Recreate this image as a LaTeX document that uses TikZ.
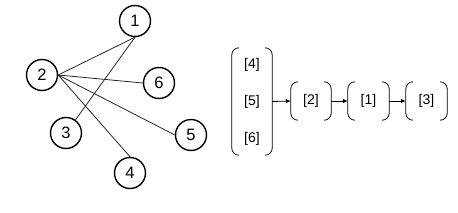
\documentclass[tikz,border=0pt]{standalone}
\usepackage{fontspec}
\setmainfont{Liberation Sans}
\usepackage{tikz}
\usetikzlibrary{arrows.meta, positioning}

% parentheses drawn round a group node
\newcommand{\grpparens}[1]{%
  \draw[paren] ([xshift=7pt]#1.north west) -- (#1.north west) -- (#1.south west) -- ([xshift=7pt]#1.south west);
  \draw[paren] ([xshift=-7pt]#1.north east) -- (#1.north east) -- (#1.south east) -- ([xshift=-7pt]#1.south east);}

\begin{document}
\begin{tikzpicture}[x=1pt, y=-1pt,
    vtx/.style={circle, draw, line width=1.4pt, minimum size=31pt, inner sep=0pt, font=\fontsize{16.5}{19}\selectfont},
    edge/.style={line width=0.8pt, black!85},
    grp/.style={minimum width=40pt, minimum height=38pt, inner sep=0pt, align=center, font=\fontsize{14}{16}\selectfont},
    paren/.style={line width=0.8pt, rounded corners=7pt},
    link/.style={line width=0.8pt, -{Latex[length=5pt, width=4.5pt]}}]
  \useasboundingbox (0,0) rectangle (458,212);
  % graph
  \node[vtx] (n1) at (135,21) {1};
  \node[vtx] (n2) at (42,75) {2};
  \node[vtx] (n6) at (159,83) {6};
  \node[vtx] (n3) at (66,133) {3};
  \node[vtx] (n5) at (191,135) {5};
  \node[vtx] (n4) at (130,173) {4};
  \draw[edge] (n2.east) -- (n1.south);
  \draw[edge] (n2.east) -- (n6.west);
  \draw[edge] (n2.east) -- (n5.west);
  \draw[edge] (n2.east) -- (n4.north);
  \draw[edge] (n3) -- (n1.south);
  % queue of groups
  \node[grp, minimum height=107pt] (q0) at (252,101.5) {[4]\\[21pt][5]\\[21pt][6]};
  \node[grp] (q1) at (311,101) {[2]};
  \node[grp, minimum width=41pt] (q2) at (368.5,101) {[1]};
  \node[grp, minimum width=41pt] (q3) at (426.5,101) {[3]};
  \grpparens{q0}
  \grpparens{q1}
  \grpparens{q2}
  \grpparens{q3}
  \draw[link] (q0.east) -- (q1.west);
  \draw[link] (q1.east) -- (q2.west);
  \draw[link] (q2.east) -- (q3.west);
\end{tikzpicture}
\end{document}
